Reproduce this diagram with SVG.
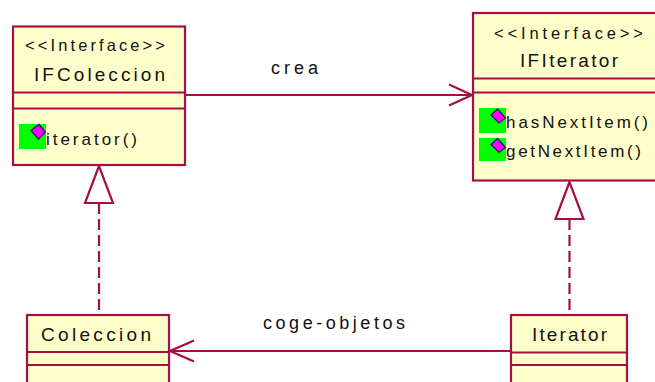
<svg xmlns="http://www.w3.org/2000/svg" width="655" height="382" viewBox="0 0 655 382">
<style>
.box{fill:#ffffcb;stroke:#a50f44;stroke-width:2.200}
.div{stroke:#a50f44;stroke-width:2.200;fill:none}
.lnk{stroke:#a50f44;stroke-width:2.200;fill:none}
.tri{stroke:#a50f44;stroke-width:2.200;fill:#fff}
.t{font-family:"Liberation Sans",Arial,sans-serif;fill:#111;text-anchor:start}
.s{font-size:16.500px}
.n{font-size:19px}
.m{font-size:17px}
.l{font-size:18px}
.g{fill:#00ff00}
.d{fill:#ff00ff;stroke:#2a1a70;stroke-width:1.300}
</style>
<g id="connectors">
<path class="lnk" d="M185 95H472M449 84.500L472 95L449 105.500"/>
<path class="lnk" d="M510 351H170M194 340.500L170 351L194 361.500"/>
<path class="lnk" d="M99 203V315" stroke-dasharray="11 5"/>
<path class="tri" d="M99 166L85 203H113Z"/>
<path class="lnk" d="M569.500 219V315" stroke-dasharray="11 5"/>
<path class="tri" d="M569.500 182L555.500 219H583.500Z"/>
<text class="t l" x="271" y="74" textLength="47">crea</text>
<text class="t l" x="263" y="329" textLength="142">coge-objetos</text>
</g>
<g id="IFColeccion">
<rect class="box" x="13" y="26.500" width="172" height="138.500"/>
<path class="div" d="M13 92.500H185M13 108.500H185"/>
<text class="t s" x="25" y="51" textLength="140">&lt;&lt;Interface&gt;&gt;</text>
<text class="t n" x="34" y="81" textLength="131">IFColeccion</text>
<rect class="g" x="19" y="124" width="27" height="25"/>
<path class="d" d="M31 130.500L39 124.500L45.500 132L38.500 139Z"/>
<text class="t m" x="46" y="145" textLength="91">iterator()</text>
</g>
<g id="IFIterator">
<rect class="box" x="473" y="13" width="190" height="167.500"/>
<path class="div" d="M473 78.500H663M473 92.500H663"/>
<text class="t s" x="494" y="39" textLength="149">&lt;&lt;Interface&gt;&gt;</text>
<text class="t n" x="520" y="67" textLength="98">IFIterator</text>
<rect class="g" x="479" y="108" width="27" height="25"/>
<path class="d" d="M491 115L497.500 109L505.500 118L499 123Z"/>
<text class="t m" x="506" y="128" textLength="142">hasNextItem()</text>
<rect class="g" x="479" y="138" width="27" height="23"/>
<path class="d" d="M491 144.500L497.500 138.500L505.500 147.500L499 152.500Z"/>
<text class="t m" x="506" y="157" textLength="135">getNextItem()</text>
</g>
<g id="Coleccion">
<rect class="box" x="27" y="315" width="142" height="80"/>
<path class="div" d="M27 352H169M27 365H169"/>
<text class="t n" x="41" y="341" textLength="110">Coleccion</text>
</g>
<g id="Iterator">
<rect class="box" x="511" y="315" width="116" height="80"/>
<path class="div" d="M511 352.500H627M511 365H627"/>
<text class="t n" x="532" y="341" textLength="75">Iterator</text>
</g>
</svg>
